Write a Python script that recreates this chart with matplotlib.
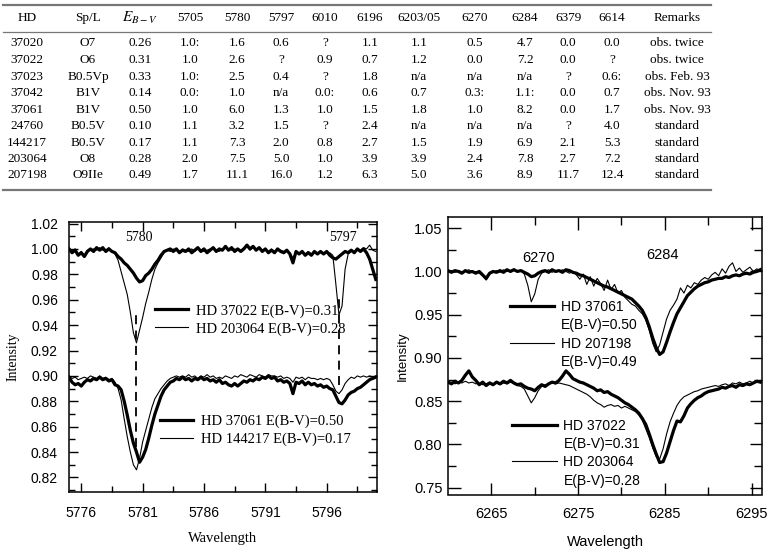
import numpy as np
import matplotlib
matplotlib.use("Agg")
import matplotlib.pyplot as plt
from matplotlib.lines import Line2D
from matplotlib.ticker import MultipleLocator, FormatStrFormatter

plt.rcParams.update({
    "font.family": "Liberation Serif",
    "mathtext.fontset": "stix",
    "axes.linewidth": 1.1,
})
SERIF = "Liberation Serif"
SANS = "Liberation Sans"

# ── Table data ────────────────────────────────────────────────────────────────
TABLE_HEADER = ["HD", "Sp/L", r"$E_{B-V}$", "5705", "5780", "5797", "6010",
                "6196", "6203/05", "6270", "6284", "6379", "6614", "Remarks"]
HD = ["37020", "37022", "37023", "37042", "37061", "24760", "144217", "203064", "207198"]
SPTYPE = ["O7", "O6", "B0.5Vp", "B1V", "B1V", "B0.5V", "B0.5V", "O8", "O9IIe"]
EBV = ["0.26", "0.31", "0.33", "0.14", "0.50", "0.10", "0.17", "0.28", "0.49"]
W5705 = ["1.0:", "1.0", "1.0:", "0.0:", "1.0", "1.1", "1.1", "2.0", "1.7"]
W5780 = ["1.6", "2.6", "2.5", "1.0", "6.0", "3.2", "7.3", "7.5", "11.1"]
W5797 = ["0.6", "?", "0.4", "n/a", "1.3", "1.5", "2.0", "5.0", "16.0"]
W6010 = ["?", "0.9", "?", "0.0:", "1.0", "?", "0.8", "1.0", "1.2"]
W6196 = ["1.1", "0.7", "1.8", "0.6", "1.5", "2.4", "2.7", "3.9", "6.3"]
W6203 = ["1.1", "1.2", "n/a", "0.7", "1.8", "n/a", "1.5", "3.9", "5.0"]
W6270 = ["0.5", "0.0", "n/a", "0.3:", "1.0", "n/a", "1.9", "2.4", "3.6"]
W6284 = ["4.7", "7.2", "n/a", "1.1:", "8.2", "n/a", "6.9", "7.8", "8.9"]
W6379 = ["0.0", "0.0", "?", "0.0", "0.0", "?", "2.1", "2.7", "11.7"]
W6614 = ["0.0", "?", "0.6:", "0.7", "1.7", "4.0", "5.3", "7.2", "12.4"]
REMARKS = ["obs. twice", "obs. twice", "obs. Feb. 93", "obs. Nov. 93", "obs. Nov. 93",
           "standard", "standard", "standard", "standard"]
TABLE_COLS = [HD, SPTYPE, EBV, W5705, W5780, W5797, W6010, W6196, W6203,
              W6270, W6284, W6379, W6614, REMARKS]

# ── Spectra, 5775-5800 Å (0.25 Å steps) ──────────────────────────────────────
WL_5780 = np.arange(5775.0, 5800.01, 0.25)
HD37022_5780 = [
    1.000, 0.997, 0.999, 0.995, 0.997, 0.994, 0.998, 1.000, 0.998, 1.001,
    0.999, 1.001, 0.998, 1.000, 0.998, 0.997, 0.994, 0.992, 0.989, 0.987,
    0.984, 0.981, 0.977, 0.974, 0.975, 0.979, 0.981, 0.984, 0.988, 0.991,
    0.995, 0.998, 0.999, 1.000, 0.998, 1.000, 0.997, 0.999, 0.998, 1.000,
    0.997, 0.999, 1.001, 0.998, 1.000, 0.997, 0.999, 1.001, 0.998, 1.000,
    0.999, 1.002, 0.999, 1.001, 0.998, 1.000, 0.998, 1.000, 1.003, 1.000,
    1.002, 0.999, 1.001, 0.998, 1.000, 0.997, 0.999, 0.997, 1.000, 0.998,
    0.997, 0.999, 0.996, 0.989, 0.998, 0.996, 0.998, 0.995, 0.997, 0.995,
    0.998, 0.996, 0.998, 0.996, 0.998, 0.995, 0.993, 0.992, 0.994, 0.996,
    0.998, 0.997, 0.999, 0.997, 1.000, 0.998, 1.000, 0.997, 0.992, 0.984,
    0.976]
HD203064_5780 = [
    0.999, 0.998, 1.000, 0.996, 0.998, 0.995, 0.999, 0.999, 1.000, 0.999,
    1.001, 0.999, 0.999, 1.001, 0.998, 0.996, 0.991, 0.982, 0.973, 0.964,
    0.950, 0.934, 0.926, 0.936, 0.946, 0.957, 0.966, 0.976, 0.984, 0.989,
    0.993, 0.997, 0.999, 0.998, 1.000, 0.999, 0.998, 1.000, 0.999, 0.998,
    1.000, 0.998, 1.000, 0.999, 0.998, 0.999, 1.000, 1.000, 0.999, 0.998,
    1.000, 1.001, 1.000, 0.999, 1.000, 0.999, 0.999, 1.001, 1.002, 0.999,
    1.001, 1.000, 1.000, 0.999, 0.999, 0.998, 1.000, 0.998, 0.999, 0.999,
    0.998, 0.998, 0.997, 0.993, 0.997, 0.997, 0.997, 0.996, 0.998, 0.996,
    0.997, 0.997, 0.997, 0.997, 0.997, 0.997, 0.995, 0.972, 0.948, 0.955,
    0.984, 0.996, 0.998, 0.998, 0.999, 0.999, 1.001, 1.000, 1.003, 0.999,
    0.998]
HD37061_5780 = [
    0.899, 0.895, 0.893, 0.894, 0.892, 0.895, 0.897, 0.896, 0.898, 0.897,
    0.899, 0.897, 0.898, 0.896, 0.897, 0.893, 0.892, 0.889, 0.880, 0.869,
    0.857, 0.847, 0.840, 0.832, 0.836, 0.842, 0.851, 0.861, 0.870, 0.877,
    0.884, 0.889, 0.892, 0.895, 0.896, 0.898, 0.897, 0.899, 0.897, 0.898,
    0.896, 0.898, 0.897, 0.899, 0.897, 0.898, 0.896, 0.897, 0.895, 0.897,
    0.894, 0.895, 0.893, 0.892, 0.894, 0.892, 0.894, 0.896, 0.895, 0.897,
    0.896, 0.898, 0.897, 0.899, 0.898, 0.900, 0.898, 0.899, 0.896, 0.897,
    0.895, 0.896, 0.894, 0.886, 0.895, 0.894, 0.896, 0.893, 0.895, 0.893,
    0.894, 0.892, 0.893, 0.891, 0.892, 0.890, 0.889, 0.884, 0.879, 0.878,
    0.881, 0.885, 0.887, 0.888, 0.890, 0.891, 0.893, 0.895, 0.897, 0.898,
    0.899]
HD144217_5780 = [
    0.900, 0.898, 0.899, 0.897, 0.898, 0.899, 0.898, 0.900, 0.899, 0.898,
    0.900, 0.898, 0.899, 0.897, 0.898, 0.895, 0.890, 0.881, 0.866, 0.852,
    0.840, 0.830, 0.826, 0.835, 0.848, 0.857, 0.866, 0.875, 0.882, 0.886,
    0.890, 0.893, 0.896, 0.898, 0.899, 0.900, 0.899, 0.900, 0.899, 0.901,
    0.899, 0.900, 0.898, 0.900, 0.899, 0.901, 0.899, 0.900, 0.898, 0.899,
    0.898, 0.900, 0.899, 0.898, 0.900, 0.899, 0.901, 0.900, 0.899, 0.901,
    0.900, 0.899, 0.901, 0.900, 0.899, 0.901, 0.900, 0.900, 0.899, 0.900,
    0.898, 0.899, 0.898, 0.895, 0.899, 0.898, 0.899, 0.897, 0.899, 0.898,
    0.898, 0.897, 0.898, 0.897, 0.898, 0.897, 0.893, 0.888, 0.886, 0.889,
    0.894, 0.897, 0.899, 0.898, 0.900, 0.899, 0.900, 0.899, 0.900, 0.899,
    0.900]
DIB_5780 = [5780.46, 5797.0]
DIB_5780_SPAN = [(0.8437, 0.949), (0.893, 0.965)]

# ── Spectra, 6260-6296 Å (0.4 Å steps) ───────────────────────────────────────
WL_6284 = np.arange(6260.0, 6296.01, 0.4)
HD37061_6284 = [
    1.001, 0.999, 1.001, 1.000, 0.998, 1.001, 0.999, 1.000, 0.998, 1.000,
    0.996, 0.992, 0.998, 1.000, 0.999, 1.001, 0.999, 1.002, 1.000, 1.002,
    1.000, 1.001, 0.999, 0.997, 0.994, 0.995, 0.998, 1.000, 1.001, 0.999,
    1.002, 1.000, 1.001, 0.999, 1.002, 1.001, 0.999, 0.998, 0.996, 0.995,
    0.993, 0.991, 0.989, 0.987, 0.985, 0.983, 0.982, 0.980, 0.978, 0.976,
    0.974, 0.972, 0.970, 0.968, 0.964, 0.960, 0.955, 0.947, 0.936, 0.923,
    0.912, 0.904, 0.907, 0.918, 0.930, 0.941, 0.951, 0.958, 0.965, 0.972,
    0.976, 0.980, 0.983, 0.985, 0.987, 0.988, 0.990, 0.991, 0.992, 0.992,
    0.994, 0.993, 0.995, 0.996, 0.995, 0.997, 0.998, 0.997, 0.999, 1.000,
    1.002]
HD207198_6284 = [
    1.000, 1.001, 0.999, 1.001, 0.999, 1.000, 1.002, 0.999, 1.000, 0.998,
    0.995, 0.990, 0.997, 0.999, 1.001, 0.999, 1.002, 1.000, 1.001, 1.003,
    1.000, 1.001, 0.997, 0.984, 0.965, 0.974, 0.991, 0.998, 1.000, 1.002,
    0.999, 1.001, 1.000, 1.002, 1.000, 0.998, 1.000, 0.996, 0.991, 0.997,
    0.985, 0.994, 0.983, 0.992, 0.986, 0.978, 0.990, 0.979, 0.985, 0.975,
    0.978, 0.970, 0.966, 0.962, 0.960, 0.955, 0.951, 0.944, 0.932, 0.917,
    0.907, 0.915, 0.930, 0.945, 0.955, 0.961, 0.968, 0.981, 0.975, 0.984,
    0.981, 0.987, 0.985, 0.990, 0.993, 0.991, 0.996, 0.999, 0.995, 1.003,
    0.998, 1.006, 1.010, 1.000, 1.004, 0.999, 1.002, 1.005, 1.000, 1.003,
    1.001]
HD37022_6284 = [
    0.872, 0.870, 0.873, 0.871, 0.874, 0.880, 0.885, 0.878, 0.874, 0.869,
    0.872, 0.868, 0.871, 0.869, 0.872, 0.870, 0.873, 0.871, 0.874, 0.871,
    0.869, 0.870, 0.867, 0.865, 0.864, 0.862, 0.866, 0.869, 0.867, 0.870,
    0.872, 0.871, 0.874, 0.879, 0.885, 0.881, 0.876, 0.874, 0.872, 0.871,
    0.869, 0.867, 0.865, 0.862, 0.863, 0.860, 0.861, 0.858, 0.856, 0.854,
    0.851, 0.848, 0.846, 0.843, 0.840, 0.836, 0.830, 0.823, 0.812, 0.800,
    0.789, 0.779, 0.780, 0.790, 0.803, 0.816, 0.827, 0.826, 0.833, 0.842,
    0.847, 0.851, 0.854, 0.856, 0.859, 0.861, 0.862, 0.863, 0.864, 0.866,
    0.865, 0.867, 0.868, 0.866, 0.869, 0.868, 0.870, 0.869, 0.871, 0.873,
    0.872]
HD203064_6284 = [
    0.871, 0.872, 0.870, 0.872, 0.871, 0.873, 0.871, 0.872, 0.870, 0.871,
    0.869, 0.870, 0.872, 0.870, 0.871, 0.869, 0.871, 0.870, 0.872, 0.870,
    0.868, 0.867, 0.864, 0.856, 0.848, 0.854, 0.862, 0.867, 0.869, 0.870,
    0.871, 0.870, 0.871, 0.870, 0.869, 0.868, 0.866, 0.864, 0.862, 0.860,
    0.858, 0.855, 0.851, 0.848, 0.846, 0.843, 0.845, 0.846, 0.844, 0.845,
    0.842, 0.844, 0.842, 0.840, 0.838, 0.834, 0.828, 0.818, 0.808, 0.796,
    0.786, 0.783, 0.795, 0.812, 0.826, 0.836, 0.845, 0.851, 0.855, 0.857,
    0.859, 0.861, 0.862, 0.864, 0.865, 0.866, 0.867, 0.868, 0.867, 0.869,
    0.870, 0.868, 0.871, 0.870, 0.872, 0.870, 0.871, 0.873, 0.871, 0.872,
    0.874]

THICK, THIN = 2.3, 0.8

fig = plt.figure(figsize=(7.71, 5.52), dpi=100)
W, H = 771.0, 552.0


def fx(px):
    return px / W


def fy(py):
    return 1 - py / H


# ── Table ─────────────────────────────────────────────────────────────────────
col_x = [27, 88, 140, 190, 237, 281, 325, 370, 419, 475, 525, 568, 612, 677]
row_y = [43, 60, 77, 93, 110, 126, 143, 159, 175]
for cx, head in zip(col_x, TABLE_HEADER):
    size = 11 if head.startswith("$") else 9.5
    fig.text(fx(cx), fy(18), head, ha="center", va="center", fontsize=size, family=SERIF)
for cx, col in zip(col_x, TABLE_COLS):
    for ry, val in zip(row_y, col):
        fig.text(fx(cx), fy(ry), val, ha="center", va="center", fontsize=9.5, family=SERIF)
for ry, lw in ((5, 1.6), (32, 0.9), (190, 1.6)):
    fig.add_artist(Line2D([fx(3), fx(711)], [fy(ry), fy(ry)], color="#777777", lw=lw))


def style_ticks(ax, major_len, minor_len):
    ax.tick_params(which="both", direction="in", top=True, right=True, width=1.0)
    ax.tick_params(which="major", length=major_len)
    ax.tick_params(which="minor", length=minor_len)


# ── Left panel: 5780 / 5797 ──────────────────────────────────────────────────
axL = fig.add_axes([fx(69), fy(491.7), fx(308), 269.7 / H])
l1, = axL.plot(WL_5780, HD37022_5780, color="black", lw=THICK)
l2, = axL.plot(WL_5780, HD203064_5780, color="black", lw=THIN)
l3, = axL.plot(WL_5780, HD37061_5780, color="black", lw=THICK)
l4, = axL.plot(WL_5780, HD144217_5780, color="black", lw=THIN)
for wl, (lo, hi) in zip(DIB_5780, DIB_5780_SPAN):
    axL.plot([wl, wl], [lo, hi], color="black", lw=1.3, ls=(0, (5, 3.5)))
axL.text(5780.7, 1.009, "5780", ha="center", va="center", fontsize=10, family=SERIF)
axL.text(5797.3, 1.009, "5797", ha="center", va="center", fontsize=10, family=SERIF)

axL.set_xlim(5775.0, 5800.1)
axL.set_ylim(0.8088, 1.0212)
axL.set_xticks([5776, 5781, 5786, 5791, 5796])
axL.set_xticks([5778.5, 5783.5, 5788.5, 5793.5, 5798.5], minor=True)
axL.set_yticks(np.arange(0.82, 1.021, 0.02))
axL.yaxis.set_minor_locator(MultipleLocator(0.01))
axL.yaxis.set_major_formatter(FormatStrFormatter("%.2f"))
style_ticks(axL, 6.5, 4.5)
axL.tick_params(axis="y", pad=8)
axL.tick_params(axis="x", pad=10)
for lab in axL.get_xticklabels() + axL.get_yticklabels():
    lab.set_family(SANS)
    lab.set_fontsize(10)
axL.set_xlabel("Wavelength", family=SERIF, fontsize=10.5, labelpad=9)
axL.set_ylabel("Intensity", family=SERIF, fontsize=10, labelpad=8)

leg_kw = dict(loc="upper left", frameon=False, borderpad=0, borderaxespad=0,
              handlelength=2.3, handletextpad=0.55, labelspacing=0.3,
              prop={"family": SERIF, "size": 10.5})
legA = axL.legend([l1, l2], ["HD 37022 E(B-V)=0.31", "HD 203064 E(B-V)=0.28"],
                  bbox_to_anchor=(0.279, 0.695), **leg_kw)
axL.add_artist(legA)
axL.legend([l3, l4], ["HD 37061 E(B-V)=0.50", "HD 144217 E(B-V)=0.17"],
           bbox_to_anchor=(0.295, 0.285), **leg_kw)

# ── Right panel: 6270 / 6284 ─────────────────────────────────────────────────
axR = fig.add_axes([fx(448), fy(494.5), fx(314), 277.5 / H])
r1, = axR.plot(WL_6284, HD37061_6284, color="black", lw=THICK)
r2, = axR.plot(WL_6284, HD207198_6284, color="black", lw=THIN)
r3, = axR.plot(WL_6284, HD37022_6284, color="black", lw=THICK)
r4, = axR.plot(WL_6284, HD203064_6284, color="black", lw=THIN)
axR.text(6270.4, 1.016, "6270", ha="center", va="center", fontsize=10.5, family=SANS)
axR.text(6284.7, 1.019, "6284", ha="center", va="center", fontsize=10.5, family=SANS)

axR.set_xlim(6260.0, 6296.2)
axR.set_ylim(0.742, 1.063)
axR.set_xticks([6265, 6275, 6285, 6295])
axR.set_xticks([6270, 6280, 6290], minor=True)
axR.set_yticks(np.arange(0.75, 1.051, 0.05))
axR.yaxis.set_minor_locator(MultipleLocator(0.025))
axR.yaxis.set_major_formatter(FormatStrFormatter("%.2f"))
style_ticks(axR, 9, 5.5)
axR.tick_params(axis="y", pad=4)
axR.tick_params(axis="x", pad=9)
for lab in axR.get_xticklabels() + axR.get_yticklabels():
    lab.set_family(SANS)
    lab.set_fontsize(10.5)
axR.set_xlabel("Wavelength", family=SANS, fontsize=10.5, labelpad=10)
axR.set_ylabel("Intensity", family=SANS, fontsize=9.5, labelpad=4)

blank = Line2D([], [], color="none")
legR_kw = dict(loc="upper left", frameon=False, borderpad=0, borderaxespad=0,
               handlelength=3.2, handletextpad=0.5, labelspacing=0.3,
               prop={"family": SANS, "size": 10})
legC = axR.legend([r1, blank, r2, blank],
                  ["HD 37061", "E(B-V)=0.50", "HD 207198", "E(B-V)=0.49"],
                  bbox_to_anchor=(0.197, 0.70), **legR_kw)
axR.add_artist(legC)
axR.legend([r3, blank, r4, blank],
           ["HD 37022", "E(B-V)=0.31", "HD 203064", "E(B-V)=0.28"],
           bbox_to_anchor=(0.204, 0.272), **legR_kw)

fig.savefig("out.png", dpi=100)
